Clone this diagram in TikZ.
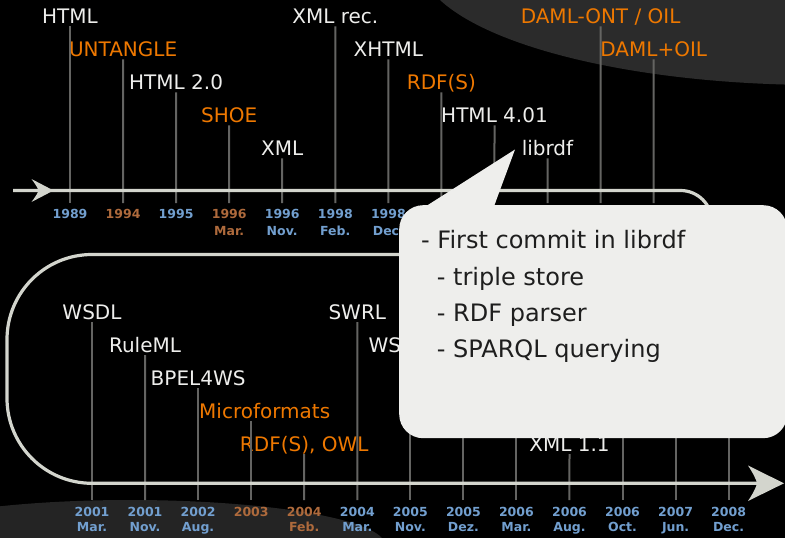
\documentclass[tikz,border=0pt]{standalone}
\usepackage{fontspec}
\setmainfont{DejaVu Sans}
\definecolor{labelwhite}{RGB}{238,238,236}
\definecolor{labelorange}{RGB}{238,120,0}
\definecolor{yearblue}{RGB}{114,159,207}
\definecolor{yearbrown}{RGB}{174,106,60}
\definecolor{tickgray}{RGB}{100,100,98}
\definecolor{linecol}{RGB}{211,213,205}
\definecolor{calloutfill}{RGB}{238,238,236}
\definecolor{calltext}{RGB}{30,30,30}
\definecolor{bgtop}{RGB}{43,43,43}
\definecolor{bgbot}{RGB}{36,36,36}
\begin{document}
\begin{tikzpicture}[x=1pt,y=-1pt,
  lbl/.style={font=\fontsize{20}{24}\selectfont, inner sep=0pt, anchor=base},
  wht/.style={text=labelwhite},
  org/.style={text=labelorange},
  yrtop/.style={font=\fontsize{12.5}{17}\bfseries\selectfont, inner sep=0pt, anchor=north, align=center},
  yrbot/.style={font=\fontsize{12.5}{15.7}\bfseries\selectfont, inner sep=0pt, anchor=north, align=center},
  blu/.style={text=yearblue},
  brn/.style={text=yearbrown},
  tickline/.style={draw=tickgray, line width=2pt},
  tline/.style={draw=linecol, line width=3.2pt},
  tiphead/.style={fill=linecol},
  ctext/.style={font=\fontsize{24}{28}\selectfont, text=calltext, inner sep=0pt, anchor=base west}]

% background
\fill[black] (0,0) rectangle (785,538);
\useasboundingbox (0,0) rectangle (785,538);
\fill[bgtop] (820,-40) ellipse [x radius=401pt, y radius=125pt];
\fill[bgbot] (130,545) ellipse [x radius=255pt, y radius=45pt];

% ---------- top row labels ----------
\node[lbl,wht] (l1) at (70,23.3) {HTML};
\node[lbl,org] (l2) at (123.1,56.3) {UNTANGLE};
\node[lbl,wht] (l3) at (176.1,89.3) {HTML 2.0};
\node[lbl,org] (l4) at (229.2,122.3) {SHOE};
\node[lbl,wht] (l5) at (282.2,155.3) {XML};
\node[lbl,wht] (l6) at (335.3,23.3) {XML rec.};
\node[lbl,wht] (l7) at (388.4,56.3) {XHTML};
\node[lbl,org] (l8) at (441.4,89.3) {RDF(S)};
\node[lbl,wht] (l9) at (494.5,122.3) {HTML 4.01};
\node[lbl,wht] (l10) at (547.5,155.3) {librdf};
\node[lbl,org] (l11) at (600.6,23.3) {DAML-ONT / OIL};
\node[lbl,org] (l12) at (653.7,56.3) {DAML+OIL};

\foreach \k in {1,...,12}{
  \coordinate (tb\k) at ({70+53.06*(\k-1)},203);
  \draw[tickline] (l\k.base) ++(0,3) -- (tb\k);
}

% top years
\node[yrtop,blu] (y1) at (70,209.5) {1989};
\node[yrtop,brn] (y2) at (123.1,209.5) {1994};
\node[yrtop,blu] (y3) at (176.1,209.5) {1995};
\node[yrtop,brn] (y4) at (229.2,209.5) {1996\\Mar.};
\node[yrtop,blu] (y5) at (282.2,209.5) {1996\\Nov.};
\node[yrtop,blu] (y6) at (335.3,209.5) {1998\\Feb.};
\node[yrtop,blu] (y7) at (388.4,209.5) {1998\\Dec.};

% ---------- bottom row labels ----------
\node[lbl,wht] (m1) at (92,319) {WSDL};
\node[lbl,wht] (m2) at (145,352) {RuleML};
\node[lbl,wht] (m3) at (198.1,385) {BPEL4WS};
\node[lbl,org] (m4) at (264.7,418) {Microformats};
\node[lbl,org] (m5) at (304.2,451) {RDF(S), OWL};
\node[lbl,wht] (m6) at (357.3,319) {SWRL};
\node[lbl,wht,anchor=base west] (m7) at (368.3,352) {WS};
\node[lbl,wht] (m10) at (569.5,451) {XML 1.1};

\foreach \k in {1,...,13}{
  \coordinate (bb\k) at ({92+53.05*(\k-1)},500);
  \coordinate (bh\k) at ({92+53.05*(\k-1)},425);
}
\draw[tickline] (m1.base) ++(0,3) -- (bb1);
\draw[tickline] (m2.base) ++(0,3) -- (bb2);
\draw[tickline] (m3.base) ++(0,3) -- (bb3);
\draw[tickline] (bb4 |- m4.base) ++(0,3) -- (bb4);
\draw[tickline] (m5.base) ++(0,3) -- (bb5);
\draw[tickline] (m6.base) ++(0,3) -- (bb6);
\draw[tickline] (bh7) -- (bb7);
\draw[tickline] (bh8) -- (bb8);
\draw[tickline] (bh9) -- (bb9);
\draw[tickline] (m10.base) ++(0,3) -- (bb10);
\draw[tickline] (bh11) -- (bb11);
\draw[tickline] (bh12) -- (bb12);
\draw[tickline] (bh13) -- (bb13);

% bottom years
\node[yrbot,blu] (z1) at (92,506.7) {2001\\Mar.};
\node[yrbot,blu] (z2) at (145,506.7) {2001\\Nov.};
\node[yrbot,blu] (z3) at (198.1,506.7) {2002\\Aug.};
\node[yrbot,brn] (z4) at (251.2,506.7) {2003};
\node[yrbot,brn] (z5) at (304.2,506.7) {2004\\Feb.};
\node[yrbot,blu] (z6) at (357.3,506.7) {2004\\Mar.};
\node[yrbot,blu] (z7) at (410.3,506.7) {2005\\Nov.};
\node[yrbot,blu] (z8) at (463.4,506.7) {2005\\Dez.};
\node[yrbot,blu] (z9) at (516.4,506.7) {2006\\Mar.};
\node[yrbot,blu] (z10) at (569.5,506.7) {2006\\Aug.};
\node[yrbot,blu] (z11) at (622.5,506.7) {2006\\Oct.};
\node[yrbot,blu] (z12) at (675.6,506.7) {2007\\Jun.};
\node[yrbot,blu] (z13) at (728.6,506.7) {2008\\Dec.};

% ---------- timeline ----------
\coordinate (start) at (13,190.5);
\coordinate (rc1) at (712,190.5);
\coordinate (rc2) at (712,254.5);
\coordinate (mid) at (300,254.5);
\coordinate (lc1) at (7,254.5);
\coordinate (lc2) at (7,483.3);
\coordinate (stop) at (760,483.3);
\draw[tline, rounded corners=31.5pt] (start) -- (rc1) -- (rc2) -- (mid);
\draw[tline, rounded corners=85pt] (mid) -- (lc1) -- (lc2) -- (stop);

% arrowheads
\coordinate (a1tip) at (53.5,190.5);
\coordinate (a2tip) at (784,483.3);
\fill[tiphead] (a1tip) -- (31.5,179) .. controls (36,185) and (38,188.5) .. (38.5,190.5) .. controls (38,192.5) and (36,196) .. (31.5,202) -- cycle;
\fill[tiphead] (a2tip) -- (748,465.5) .. controls (753,473) and (756.5,480) .. (757,483.3) .. controls (756.5,486.6) and (753,493.6) .. (748,501) -- cycle;

% ---------- callout ----------
\coordinate (ptip) at (515,149.5);
\fill[calloutfill] (ptip) -- (409,217) -- (493,209) -- cycle;
\node[fill=calloutfill, rounded corners=24pt, minimum width=388pt, minimum height=233pt, anchor=north west, inner sep=0pt] (box) at (399,205) {};
\node[ctext] (c1) at (421,248.3) {- First commit in librdf};
\node[ctext] (c2) at (436.7,285) {- triple store};
\node[ctext] (c3) at (436.7,321.3) {- RDF parser};
\node[ctext] (c4) at (436.7,357.5) {- SPARQL querying};
\end{tikzpicture}
\end{document}
